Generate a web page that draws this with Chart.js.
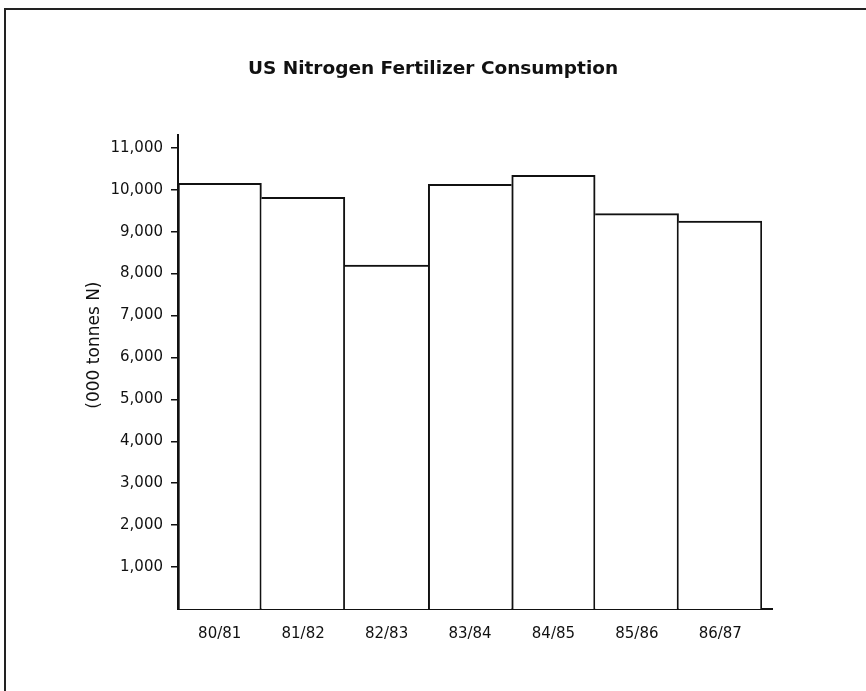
<!DOCTYPE html>
<html>
<head>
<meta charset="utf-8">
<script src="https://cdn.jsdelivr.net/npm/chart.js@4.4.0/dist/chart.umd.min.js"></script>
<style>
    body { margin: 0; background: #fff; overflow: hidden; }
    #wrap { position: relative; width: 866px; height: 691px; }
    #frame {
        position: absolute; left: 4px; top: 8px; width: 900px; height: 800px;
        border: 2px solid #222;
    }
    canvas { position: absolute; left: 0; top: 0; }
</style>
</head>
<body>
<div id="wrap">
    <div id="frame"></div>
    <canvas id="myChart"></canvas>
</div>
<script>
const seasons = ['80/81', '81/82', '82/83', '83/84', '84/85', '85/86', '86/87'];
const consumption = [10150, 9820, 8200, 10130, 10340, 9430, 9250];
const yTicks = [1000, 2000, 3000, 4000, 5000, 6000, 7000, 8000, 9000, 10000, 11000];

// the x axis line runs a little past the last bar
const axisTail = {
    id: 'axisTail',
    afterDraw(chart) {
        const { ctx, chartArea } = chart;
        ctx.save();
        ctx.strokeStyle = '#111';
        ctx.lineWidth = 2;
        ctx.beginPath();
        ctx.moveTo(chartArea.right - 1, chartArea.bottom);
        ctx.lineTo(chartArea.right + 11, chartArea.bottom);
        ctx.stroke();
        ctx.restore();
    }
};

// neighbouring bars share one outline: the taller bar draws the common side
function sideWidths(ctx) {
    const i = ctx.dataIndex;
    const v = consumption[i];
    const prev = i > 0 ? consumption[i - 1] : -1;
    const next = i < consumption.length - 1 ? consumption[i + 1] : -1;
    return {
        top: 2,
        bottom: 0,
        left: v >= prev ? 2 : 0,
        right: v > next ? 2 : 0
    };
}

const canvas = document.getElementById('myChart');
new Chart(canvas, {
    type: 'bar',
    data: {
        labels: seasons,
        datasets: [{
            label: 'US Nitrogen Fertilizer Consumption',
            data: consumption,
            backgroundColor: '#fff',
            borderColor: '#111',
            borderWidth: sideWidths,
            borderSkipped: false,
            barPercentage: 1,
            categoryPercentage: 1
        }]
    },
    plugins: [axisTail],
    options: {
        responsive: true,
        maintainAspectRatio: false,
        animation: false,
        layout: {
            padding: 0
        },
        plugins: {
            legend: { display: false },
            tooltip: { enabled: false },
            title: {
                display: true,
                text: 'US Nitrogen Fertilizer Consumption',
                color: '#111',
                font: { family: 'DejaVu Sans', weight: 'bold', size: 18.5 },
                padding: { top: 58, bottom: 55 }
            }
        },
        scales: {
            x: {
                afterFit: scale => { scale.height = 82; },
                grid: { display: true, drawOnChartArea: false, drawTicks: false },
                border: { display: true, color: '#111', width: 2 },
                ticks: {
                    color: '#111',
                    padding: 16,
                    font: { family: 'DejaVu Sans', size: 15 }
                }
            },
            y: {
                min: 0,
                max: 11300,
                afterFit: scale => { scale.width = 178; },
                afterBuildTicks: scale => {
                    scale.ticks = yTicks.map(v => ({ value: v }));
                },
                grid: {
                    display: true,
                    drawOnChartArea: false,
                    drawTicks: true,
                    tickLength: 7,
                    color: '#111',
                    lineWidth: 1.5
                },
                border: { display: true, color: '#111', width: 2 },
                ticks: {
                    color: '#111',
                    padding: 8,
                    font: { family: 'DejaVu Sans', size: 15 },
                    callback: value => value.toLocaleString('en-US')
                },
                title: {
                    display: true,
                    text: '          (000 tonnes N)',
                    color: '#111',
                    font: { family: 'DejaVu Sans', size: 17 },
                    padding: { top: 84, bottom: 0 }
                }
            },
            // empty right-hand strip so the plot ends where the reference's does
            yRight: {
                position: 'right',
                afterFit: scale => { scale.width = 104; },
                grid: { display: false },
                border: { display: false },
                ticks: { display: false }
            }
        }
    }
});
</script>
</body>
</html>
